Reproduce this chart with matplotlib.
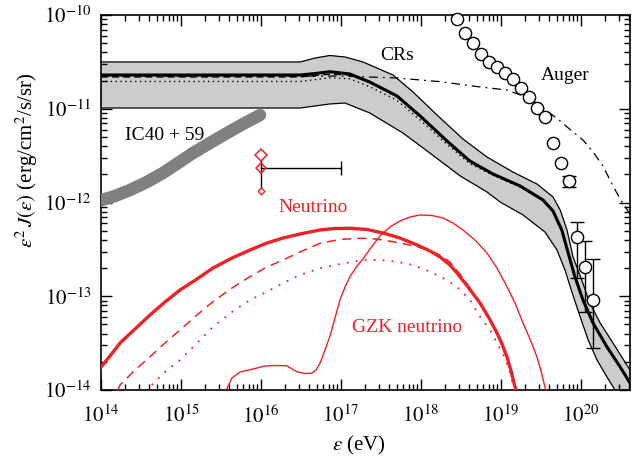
import numpy as np
import matplotlib
matplotlib.use("Agg")
import matplotlib.pyplot as plt
from matplotlib.ticker import LogLocator, NullFormatter

plt.rcParams['font.family'] = ['Liberation Serif', 'DejaVu Serif']
plt.rcParams['mathtext.fontset'] = 'stix'

RED = '#ee2126'

# ---------------- data (log10 energy [eV], log10 flux) ----------------
# cosmic-ray model band
band_up_logE = [14.0, 16.49, 16.675, 16.86, 17.05, 17.275, 17.65, 17.9, 18.2, 18.525, 18.825,
                19.15, 19.45, 19.65, 19.74, 19.825, 19.9, 20.01, 20.11, 20.24, 20.4, 20.6125]
band_up_logJ = [-10.501, -10.501, -10.459, -10.432, -10.448, -10.501, -10.64, -10.821, -11.067,
                -11.323, -11.515, -11.675, -11.803, -11.941, -12.08, -12.293, -12.581, -12.827,
                -13.072, -13.285, -13.499, -13.787]
band_lo_logE = [14.0, 16.49, 16.86, 17.05, 17.36, 17.775, 18.11, 18.49, 18.825, 18.99, 19.275,
                19.55, 19.7, 19.8, 19.89, 19.99, 20.09, 20.2, 20.325, 20.425, 20.55, 20.6125]
band_lo_logJ = [-10.992, -10.992, -10.949, -10.939, -11.045, -11.259, -11.472, -11.717, -11.888,
                -11.995, -12.133, -12.315, -12.507, -12.72, -12.965, -13.221, -13.467, -13.68,
                -13.861, -14.0, -14.128, -14.19]

cr_logE = [14.0, 16.49, 16.675, 16.86, 17.11, 17.36, 17.7, 17.99, 18.325, 18.61, 18.9, 19.24,
           19.525, 19.65, 19.76, 19.84, 19.925, 20.025, 20.15, 20.325, 20.49, 20.6125]
cr_logJ = [-10.64, -10.64, -10.624, -10.605, -10.629, -10.715, -10.864, -11.077, -11.344,
           -11.557, -11.696, -11.824, -11.973, -12.091, -12.293, -12.539, -12.795, -13.04,
           -13.285, -13.541, -13.755, -13.925]
cr_dash_logE = [14.0, 16.49, 16.86, 17.11, 17.36, 17.7, 17.99, 18.325, 18.61, 18.9, 19.24,
                19.525, 19.65, 19.76, 19.84, 19.925, 20.025, 20.15, 20.325, 20.49, 20.6125]
cr_dash_logJ = [-10.661, -10.661, -10.63, -10.64, -10.72, -10.866, -11.08, -11.35, -11.565,
                -11.702, -11.83, -11.978, -12.095, -12.30, -12.545, -12.80, -13.045, -13.29,
                -13.545, -13.76, -13.93]
cr_dot_logE = [14.0, 16.49, 16.86, 17.11, 17.36, 17.7, 17.99, 18.325, 18.61, 18.9, 19.24,
               19.525, 19.65, 19.76, 19.84, 19.925, 20.025, 20.15, 20.325, 20.49, 20.6125]
cr_dot_logJ = [-10.709, -10.709, -10.67, -10.68, -10.765, -10.91, -11.12, -11.38, -11.585,
               -11.71, -11.835, -11.98, -12.10, -12.30, -12.545, -12.80, -13.045, -13.29,
               -13.545, -13.76, -13.93]

# injection (dash-dot)
inj_logE = [14.0, 16.99, 17.7, 18.24, 18.74, 19.075, 19.24, 19.45, 19.61, 19.74, 19.9, 20.025,
            20.15, 20.275, 20.4, 20.49, 20.6125]
inj_logJ = [-10.651, -10.651, -10.672, -10.711, -10.768, -10.8, -10.853, -10.939, -11.045,
            -11.131, -11.248, -11.333, -11.461, -11.611, -11.824, -11.963, -12.123]

# Auger data
auger_logE = [18.45, 18.55, 18.65, 18.75, 18.85, 18.95, 19.05, 19.15, 19.25, 19.35, 19.45,
              19.55, 19.65, 19.75, 19.85, 19.95, 20.05, 20.15]
auger_logJ = [-10.046, -10.195, -10.302, -10.419, -10.498, -10.551, -10.615, -10.683, -10.782,
              -10.878, -10.989, -11.085, -11.362, -11.582, -11.771, -12.365, -12.685, -13.04]
auger_err_logE = [19.85, 19.95, 20.05, 20.15]
auger_err_logJ = [-11.771, -12.365, -12.685, -13.04]
auger_err_hi_logJ = [-11.717, -12.205, -12.411, -12.606]
auger_err_lo_logJ = [-11.835, -12.809, -13.165, -13.555]

# IceCube IC40+59 limit
ic_logE = [14.009, 14.175, 14.3625, 14.575, 14.775, 14.9625, 15.15, 15.3625, 15.575, 15.775, 15.9875]
ic_logJ = [-11.973, -11.931, -11.867, -11.781, -11.685, -11.579, -11.472, -11.365, -11.259,
           -11.163, -11.067]

# neutrino data point
nu_pt_logE = 16.0
nu_pt_logE_hi = 17.0
nu_pt_logJ = -11.632
nu_pt_logJ_hi = -11.493
nu_pt_logJ_lo = -11.874

# neutrino model curves
nu_logE = [14.0, 14.1125, 14.2375, 14.425, 14.6125, 14.8, 14.9875, 15.2, 15.4, 15.6375, 15.8625,
           16.075, 16.275, 16.4875, 16.7375, 16.925, 17.1125, 17.325, 17.525, 17.7375, 17.95,
           18.1125, 18.2375, 18.3625, 18.45, 18.5875, 18.7375, 18.85, 18.95, 19.0125, 19.075,
           19.125, 19.175, 19.2]
nu_logJ = [-13.755, -13.637, -13.499, -13.349, -13.2, -13.061, -12.933, -12.816, -12.699,
           -12.592, -12.507, -12.432, -12.379, -12.336, -12.293, -12.277, -12.275, -12.288,
           -12.325, -12.379, -12.453, -12.517, -12.581, -12.667, -12.752, -12.901, -13.072,
           -13.232, -13.392, -13.509, -13.648, -13.797, -13.968, -14.053]
nu_dash_logE = [14.2125, 14.2375, 14.425, 14.6125, 14.8, 14.9875, 15.2, 15.4, 15.6375, 15.8625,
                16.075, 16.275, 16.4875, 16.7375, 16.9875, 17.2, 17.3625, 17.525, 17.7375, 17.95,
                18.1125, 18.2375, 18.3625, 18.525, 18.7375, 18.95, 19.075, 19.175, 19.2]
nu_dash_logJ = [-14.0, -13.947, -13.787, -13.645, -13.499, -13.36, -13.2, -13.058, -12.912,
                -12.791, -12.688, -12.613, -12.528, -12.435, -12.395, -12.382, -12.384, -12.4,
                -12.432, -12.471, -12.512, -12.56, -12.635, -12.805, -13.07, -13.39, -13.646,
                -13.966, -14.05]
nu_dot_logE = [14.634, 14.8, 14.9875, 15.2, 15.4, 15.6375, 15.8625, 16.075, 16.275, 16.4875,
               16.7375, 16.9875, 17.275, 17.4875, 17.7, 17.9, 18.1125, 18.3, 18.45, 18.6125,
               18.7375, 18.8625, 18.95, 19.05, 19.1125, 19.175]
nu_dot_logJ = [-13.947, -13.808, -13.68, -13.499, -13.325, -13.168, -13.04, -12.951, -12.862,
               -12.773, -12.702, -12.656, -12.613, -12.613, -12.632, -12.667, -12.738, -12.816,
               -12.898, -13.04, -13.218, -13.36, -13.499, -13.659, -13.819, -14.021]

gzk_logE = [15.571, 15.6375, 15.7375, 15.9, 16.05, 16.175, 16.321, 16.446, 16.55, 16.634,
            16.6875, 16.7375, 16.8, 16.8625, 16.925, 16.9875, 17.05, 17.1125, 17.2, 17.275,
            17.3625, 17.4875, 17.6125, 17.7375, 17.8625, 17.9875, 18.1375, 18.275, 18.4, 18.525,
            18.675, 18.825, 18.95, 19.075, 19.175, 19.275, 19.3625, 19.45, 19.5, 19.55, 19.5625]
gzk_logJ = [-13.989, -13.872, -13.808, -13.776, -13.744, -13.739, -13.741, -13.805, -13.824,
            -13.822, -13.787, -13.715, -13.573, -13.424, -13.232, -13.04, -12.901, -12.791,
            -12.677, -12.603, -12.496, -12.357, -12.261, -12.197, -12.155, -12.133, -12.139,
            -12.165, -12.219, -12.293, -12.4, -12.539, -12.699, -12.898, -13.072, -13.285,
            -13.456, -13.648, -13.797, -13.968, -14.021]

xticks_exp = [14, 15, 16, 17, 18, 19, 20]
yticks_exp = [-14, -13, -12, -11, -10]


def p(a):
    return 10.0 ** np.asarray(a, dtype=float)


# ---------------- figure ----------------
fig = plt.figure(figsize=(6.4, 4.62), dpi=100)
ax = fig.add_axes([101 / 640, 72 / 462, 529 / 640, 375 / 462])
ax.set_xscale('log')
ax.set_yscale('log')

# band
upE, upJ = p(band_up_logE), p(band_up_logJ)
loE, loJ = p(band_lo_logE), p(band_lo_logJ)
poly_x = np.concatenate([upE, loE[::-1]])
poly_y = np.concatenate([upJ, loJ[::-1]])
ax.fill(poly_x, poly_y, color='#cccccc', lw=0, zorder=1)
ax.plot(upE, upJ, color='k', lw=0.9, zorder=2)
ax.plot(loE, loJ, color='k', lw=0.9, zorder=2)

ax.plot(p(cr_dot_logE), p(cr_dot_logJ), color='k', lw=1.0, ls=(0, (1, 2.5)), zorder=3)
ax.plot(p(cr_dash_logE), p(cr_dash_logJ), color='k', lw=1.0, ls=(0, (5, 3)), zorder=3)
ax.plot(p(cr_logE), p(cr_logJ), color='k', lw=2.2, zorder=4)
ax.plot(p(inj_logE), p(inj_logJ), color='k', lw=0.9, ls=(0, (7, 4, 1.5, 4)), zorder=3)

# IceCube
ax.plot(p(ic_logE), p(ic_logJ), color='#808080', lw=9, solid_capstyle='round',
        solid_joinstyle='round', zorder=3)

# neutrino curves
ax.plot(p(nu_logE), p(nu_logJ), color=RED, lw=2.4, zorder=5)
ax.plot(p(nu_dash_logE), p(nu_dash_logJ), color=RED, lw=1.1, ls=(0, (6, 4)), zorder=5)
ax.plot(p(nu_dot_logE), p(nu_dot_logJ), color=RED, lw=1.3, ls=(0, (1, 4)), zorder=5)
ax.plot(p(gzk_logE), p(gzk_logJ), color=RED, lw=1.0, zorder=5)

# neutrino data point
x0, x1 = 10 ** nu_pt_logE, 10 ** nu_pt_logE_hi
y0 = 10 ** nu_pt_logJ
ax.plot([x0, x1], [y0, y0], color='k', lw=1.0, zorder=6)
ax.plot([x0, x0], [10 ** nu_pt_logJ_lo, 10 ** nu_pt_logJ_hi], color='k', lw=1.0, zorder=6)
ax.plot([x1], [y0], marker='|', ms=10, mew=1.0, color='k', zorder=6)
ax.plot([x0], [10 ** nu_pt_logJ_hi], marker='D', ms=6.5, mfc='white', mec=RED, mew=1.1, zorder=7)
ax.plot([x0], [y0], marker='D', ms=5, mfc='none', mec=RED, mew=1.1, zorder=7)
ax.plot([x0], [10 ** nu_pt_logJ_lo], marker='D', ms=3.5, mfc='white', mec=RED, mew=1.0, zorder=7)

# Auger
eE = p(auger_err_logE)
eJ = p(auger_err_logJ)
ax.errorbar(eE, eJ, yerr=[eJ - p(auger_err_lo_logJ), p(auger_err_hi_logJ) - eJ],
            fmt='none', ecolor='k', elinewidth=1.0, capsize=5, capthick=1.0, zorder=6)
ax.plot(p(auger_logE), p(auger_logJ), ls='none', marker='o', ms=8.8, mfc='white',
        mec='k', mew=1.0, zorder=7, clip_on=False)

# labels
ax.text(10 ** 17.7, 10 ** -10.43, 'CRs', fontsize=14, ha='center', va='center')
ax.text(10 ** 19.8, 10 ** -10.64, 'Auger', fontsize=14, ha='center', va='center')
ax.text(10 ** 14.8, 10 ** -11.28, 'IC40 + 59', fontsize=14, ha='center', va='center')
ax.text(10 ** 16.65, 10 ** -12.05, 'Neutrino', fontsize=14, ha='center', va='center', color=RED)
ax.text(10 ** 17.83, 10 ** -13.33, 'GZK neutrino', fontsize=14, ha='center', va='center', color=RED)

# axes
ax.set_xlim(1e14, 10 ** 20.6125)
ax.set_ylim(1e-14, 1e-10)
ax.set_xticks([10.0 ** e for e in xticks_exp])
ax.set_xticklabels([r'$10^{%d}$' % e for e in xticks_exp])
ax.set_yticks([10.0 ** e for e in yticks_exp])
ax.set_yticklabels([r'$10^{%d}$' % e for e in yticks_exp])
ax.xaxis.set_minor_locator(LogLocator(base=10, subs=np.arange(2, 10), numticks=20))
ax.yaxis.set_minor_locator(LogLocator(base=10, subs=np.arange(2, 10), numticks=20))
ax.xaxis.set_minor_formatter(NullFormatter())
ax.yaxis.set_minor_formatter(NullFormatter())
ax.tick_params(which='both', direction='in', top=True, right=True, labelsize=15, width=1.0)
ax.tick_params(which='major', length=8, pad=7)
ax.tick_params(which='minor', length=4.5)
ax.tick_params(axis='x', which='major', pad=11)
for s in ax.spines.values():
    s.set_linewidth(1.2)

fig.text(359 / 640, 1 - 445 / 462, r'$\varepsilon$ (eV)', fontsize=15, ha='center', va='center')
fig.text(27 / 640, 1 - 160 / 462, r'$\varepsilon^2\,J(\varepsilon)$ (erg/cm$^2$/s/sr)',
         fontsize=15, ha='center', va='center', rotation=90)

fig.savefig('out.png', dpi=100)
